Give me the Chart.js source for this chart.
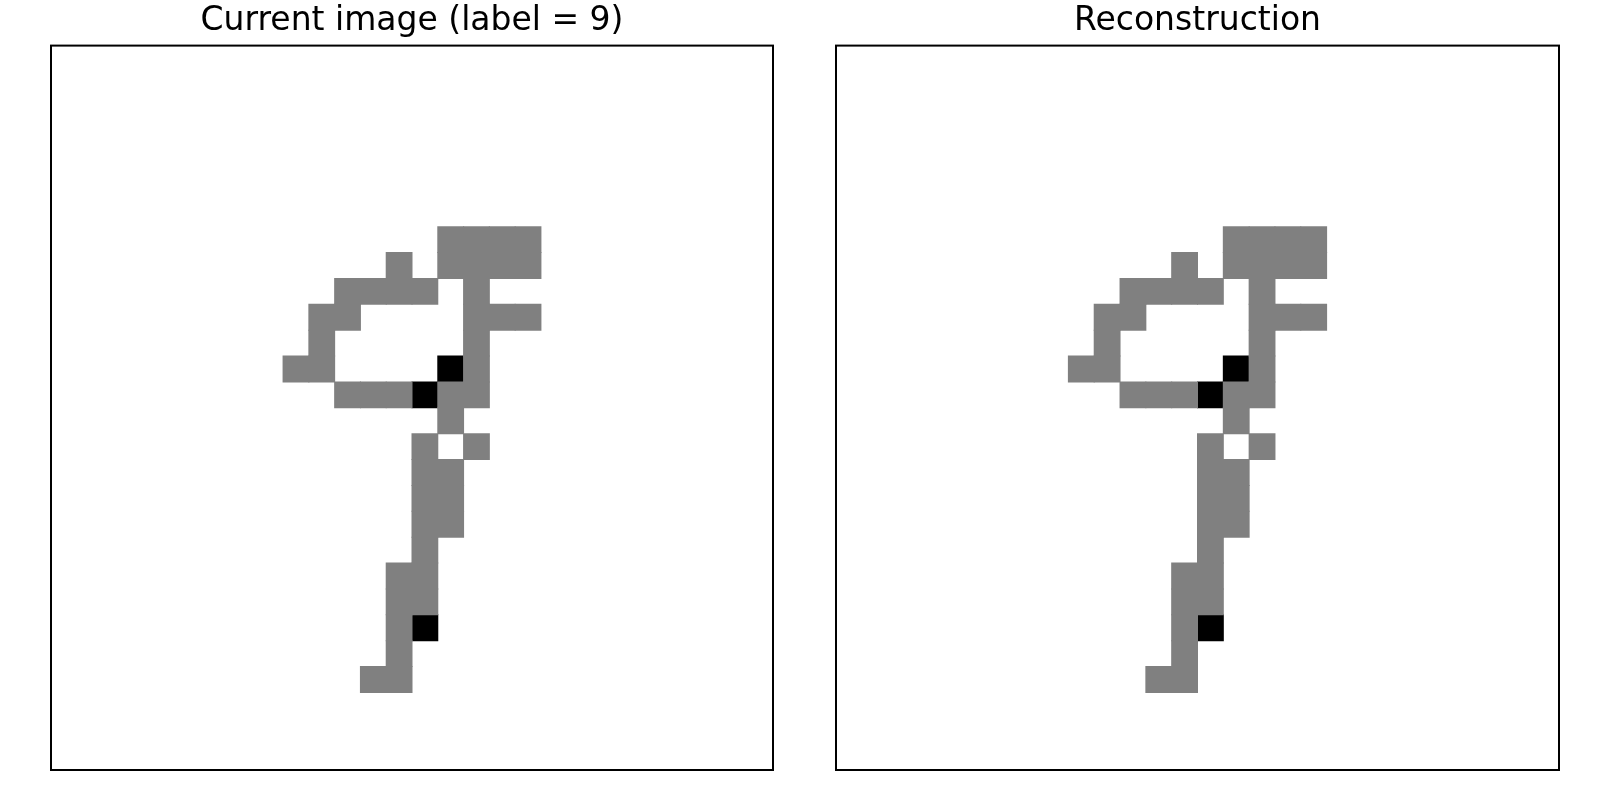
<!DOCTYPE html>
<html>
<head>
<meta charset="utf-8">
<script src="https://cdn.jsdelivr.net/npm/chart.js@4.4.1/dist/chart.umd.min.js"></script>
<style>
  body { margin: 0; background: #fff; }
  #wrap { position: relative; width: 1600px; height: 800px; }
  canvas { position: absolute; top: 0; }
</style>
</head>
<body>
<div id="wrap">
  <canvas id="leftChart" width="800" height="800" style="left:0"></canvas>
  <canvas id="rightChart" width="800" height="800" style="left:800px"></canvas>
</div>
<script>
// 28x28 pixel levels: 0 = white, 1 = gray, 2 = black
const currentImage = [
  "0000000000000000000000000000",
  "0000000000000000000000000000",
  "0000000000000000000000000000",
  "0000000000000000000000000000",
  "0000000000000000000000000000",
  "0000000000000000000000000000",
  "0000000000000000000000000000",
  "0000000000000001111000000000",
  "0000000000000101111000000000",
  "0000000000011110100000000000",
  "0000000000110000111000000000",
  "0000000000100000100000000000",
  "0000000001100002100000000000",
  "0000000000011121100000000000",
  "0000000000000001000000000000",
  "0000000000000010100000000000",
  "0000000000000011000000000000",
  "0000000000000011000000000000",
  "0000000000000011000000000000",
  "0000000000000010000000000000",
  "0000000000000110000000000000",
  "0000000000000110000000000000",
  "0000000000000120000000000000",
  "0000000000000100000000000000",
  "0000000000001100000000000000",
  "0000000000000000000000000000",
  "0000000000000000000000000000",
  "0000000000000000000000000000"
];

const reconstruction = [
  "0000000000000000000000000000",
  "0000000000000000000000000000",
  "0000000000000000000000000000",
  "0000000000000000000000000000",
  "0000000000000000000000000000",
  "0000000000000000000000000000",
  "0000000000000000000000000000",
  "0000000000000001111000000000",
  "0000000000000101111000000000",
  "0000000000011110100000000000",
  "0000000000110000111000000000",
  "0000000000100000100000000000",
  "0000000001100002100000000000",
  "0000000000011121100000000000",
  "0000000000000001000000000000",
  "0000000000000010100000000000",
  "0000000000000011000000000000",
  "0000000000000011000000000000",
  "0000000000000011000000000000",
  "0000000000000010000000000000",
  "0000000000000110000000000000",
  "0000000000000110000000000000",
  "0000000000000120000000000000",
  "0000000000000100000000000000",
  "0000000000001100000000000000",
  "0000000000000000000000000000",
  "0000000000000000000000000000",
  "0000000000000000000000000000"
];

const panelTitles = ["Current image (label = 9)", "Reconstruction"];
const columnLabels = Array.from({ length: 28 }, (_, i) => String(i));
const shadeColors = { 1: "#808080", 2: "#000000" };

// frame around the plot area, like the axes spines
const framePlugin = {
  id: "frame",
  afterDraw(chart) {
    const a = chart.chartArea;
    const ctx = chart.ctx;
    ctx.save();
    ctx.strokeStyle = "#000";
    ctx.lineWidth = 2;
    ctx.strokeRect(a.left, a.top, a.right - a.left, a.bottom - a.top);
    ctx.restore();
  }
};

function buildDatasets(rows) {
  let sets = [];
  for (const level of [1, 2]) {
    let data = [];
    rows.forEach((row, r) => {
      for (let c = 0; c < row.length; c++) {
        if (Number(row[c]) === level) {
          data.push({ x: columnLabels[c], y: [r, r + 1] });
        }
      }
    });
    sets.push({
      data: data,
      backgroundColor: shadeColors[level],
      borderWidth: 0,
      inflateAmount: 0.5,
      categoryPercentage: 1,
      barPercentage: 1,
      grouped: false
    });
  }
  return sets;
}

function createChart(id, rows, title, padding) {
  new Chart(document.getElementById(id), {
    type: "bar",
    data: { labels: columnLabels, datasets: buildDatasets(rows) },
    options: {
      responsive: false,
      animation: false,
      devicePixelRatio: 1,
      layout: { padding: padding },
      plugins: {
        legend: { display: false },
        tooltip: { enabled: false },
        title: {
          display: true,
          text: title,
          color: "#000",
          font: { family: "DejaVu Sans", size: 33, weight: "normal" },
          padding: { top: 2, bottom: 4 }
        }
      },
      scales: {
        x: { display: false, offset: true },
        y: { display: false, min: 0, max: 28, reverse: true }
      }
    },
    plugins: [framePlugin]
  });
}

createChart("leftChart", currentImage, panelTitles[0], { left: 51, right: 27, top: 0, bottom: 30 });
createChart("rightChart", reconstruction, panelTitles[1], { left: 36, right: 41, top: 0, bottom: 30 });
</script>
</body>
</html>
